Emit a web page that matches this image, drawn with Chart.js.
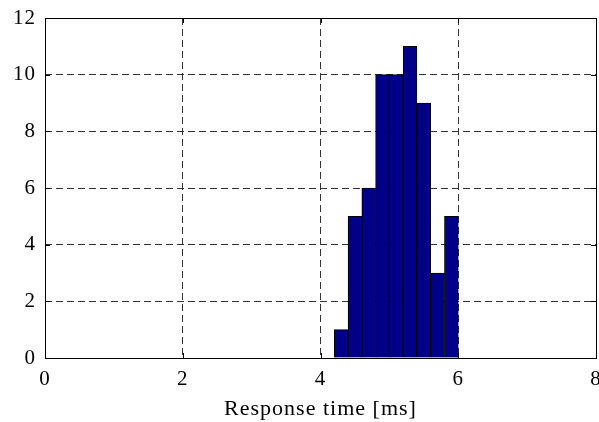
<!DOCTYPE html>
<html>
<head>
<meta charset="utf-8">
<script src="https://cdn.jsdelivr.net/npm/chart.js@4"></script>
<style>
  html, body { margin: 0; padding: 0; background: #fff; }
  #wrap { width: 599px; height: 422px; }
</style>
</head>
<body>
<div id="wrap"><canvas id="hist"></canvas></div>
<script>
// bin centres (ms) and counts
const binCenters = [4.3, 4.5, 4.7, 4.9, 5.1, 5.3, 5.5, 5.7, 5.9];
const counts = [1, 5, 6, 10, 10, 11, 9, 3, 5];
const xTicks = [0, 2, 4, 6, 8];
const yTicks = [0, 2, 4, 6, 8, 10, 12];

const fontSpec = { family: '"Liberation Serif", "Times New Roman", serif', size: 21 };

// slightly spaced lettering like the original export
const spacingPlugin = {
  id: 'spacing',
  beforeDraw(chart) { chart.ctx.letterSpacing = '1px'; }
};

// box around the axes plus inward tick marks, matlab style
const boxPlugin = {
  id: 'box',
  afterDatasetsDraw(chart) {
    const { ctx, chartArea: a, scales } = chart;
    ctx.save();
    ctx.strokeStyle = '#000';
    ctx.lineWidth = 1;
    ctx.setLineDash([]);
    ctx.beginPath();
    xTicks.forEach(v => {
      const px = Math.round(scales.x.getPixelForValue(v)) + 0.5;
      ctx.moveTo(px, a.bottom); ctx.lineTo(px, a.bottom - 5);
      ctx.moveTo(px, a.top); ctx.lineTo(px, a.top + 5);
    });
    yTicks.forEach(v => {
      const py = Math.round(scales.y.getPixelForValue(v)) + 0.5;
      ctx.moveTo(a.left, py); ctx.lineTo(a.left + 5, py);
      ctx.moveTo(a.right, py); ctx.lineTo(a.right - 5, py);
    });
    ctx.stroke();
    ctx.strokeRect(Math.round(a.left) + 0.5, Math.round(a.top) + 0.5,
      Math.round(a.right - a.left), Math.round(a.bottom - a.top));
    ctx.restore();
  }
};

new Chart(document.getElementById('hist'), {
  type: 'bar',
  data: {
    datasets: [{
      data: binCenters.map((c, i) => ({ x: c, y: counts[i] })),
      backgroundColor: '#000088',
      borderColor: '#000',
      borderWidth: 1,
      barPercentage: 1.0,
      categoryPercentage: 1.0,
      grouped: false
    }]
  },
  options: {
    responsive: true,
    maintainAspectRatio: false,
    animation: false,
    layout: { padding: { top: 18, right: 3, left: 0, bottom: 0 } },
    plugins: { legend: { display: false }, tooltip: { enabled: false } },
    scales: {
      x: {
        type: 'linear',
        min: 0, max: 8,
        offset: false,
        afterBuildTicks: s => { s.ticks = xTicks.map(v => ({ value: v })); },
        afterFit: s => { s.height = 64; s.paddingRight = 0; s.paddingLeft = 0; },
        grid: { color: '#333', lineWidth: 1, drawTicks: false, offset: false },
        border: { display: false, dash: [7, 4] },
        ticks: { color: '#000', font: fontSpec, padding: 9, maxRotation: 0 },
        title: { display: true, text: 'Response time [ms]', color: '#000', font: { family: fontSpec.family, size: 22 }, padding: { top: 2, bottom: 0 } }
      },
      y: {
        min: 0, max: 12,
        afterBuildTicks: s => { s.ticks = yTicks.map(v => ({ value: v })); },
        afterFit: s => { s.width = 45; s.paddingTop = 0; s.paddingBottom = 0; },
        grid: { color: '#333', lineWidth: 1, drawTicks: false },
        border: { display: false, dash: [7, 4] },
        ticks: { color: '#000', font: fontSpec, padding: 9 }
      }
    }
  },
  plugins: [spacingPlugin, boxPlugin]
});
</script>
</body>
</html>
